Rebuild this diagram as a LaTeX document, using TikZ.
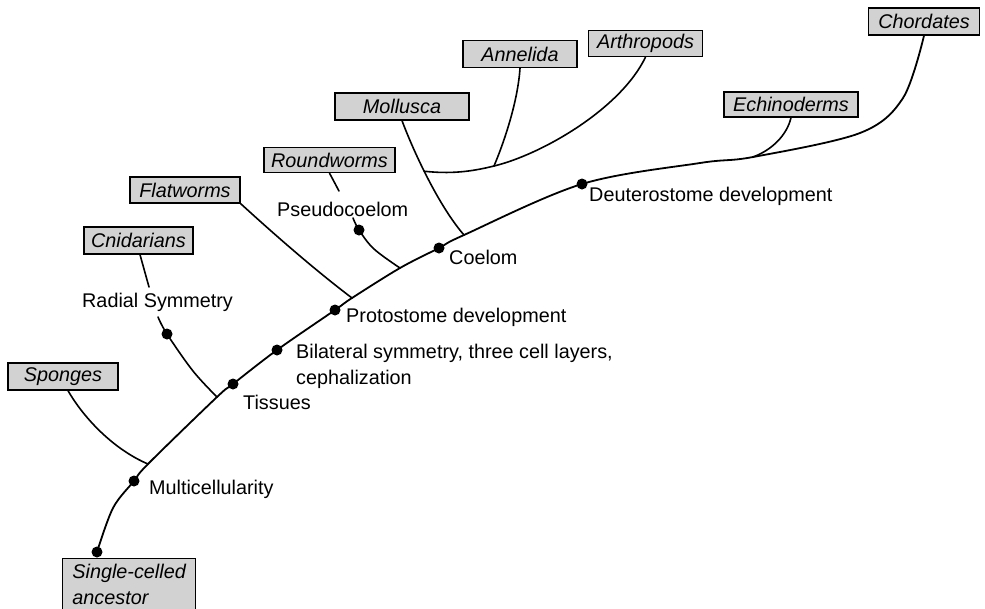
\documentclass[tikz,border=0pt]{standalone}
\usepackage{fontspec}
\setmainfont{Liberation Sans}
\begin{document}
\begin{tikzpicture}[x=1pt,y=-1pt,
  lbl/.style={font=\fontsize{19.8}{26}\selectfont, inner sep=0pt, anchor=west, align=left},
  taxon/.style={draw, line width=1.3pt, fill=gray!35, font=\fontsize{19.8}{26}\selectfont\itshape,
    inner sep=0pt, minimum height=27pt},
  trunk/.style={line width=1.8pt, line cap=round, line join=round},
  branch/.style={line width=1.6pt, line cap=round},
  dot/.style={fill=black, circle, inner sep=0pt, minimum size=11pt}]
\useasboundingbox (0,0) rectangle (985,608);

% taxon boxes
\node[taxon, minimum width=110pt] (spo) at (63,376.5) {Sponges};
\node[taxon, minimum width=109pt] (cni) at (138.5,240.5) {Cnidarians};
\node[taxon, minimum width=110pt, minimum height=26pt] (fla) at (185,190) {Flatworms};
\node[taxon, minimum width=131pt, minimum height=25pt] (rou) at (329.5,160) {Roundworms};
\node[taxon, minimum width=134pt] (mol) at (402,106.5) {Mollusca};
\node[taxon, minimum width=114pt] (ann) at (520,54) {Annelida};
\node[taxon, minimum width=114pt, minimum height=26pt] (art) at (645.5,43.5) {Arthropods};
\node[taxon, minimum width=134pt, minimum height=25pt] (ech) at (791,104.5) {Echinoderms};
\node[taxon, minimum width=111pt] (cho) at (924,21.5) {Chordates};
\node[taxon, minimum width=133pt, minimum height=52pt, anchor=north west, align=left] (anc) at (62,558) {Single-celled\\ancestor};

% trunk coordinates
\coordinate (t0) at (97,552);
\coordinate (t1) at (113,508);
\coordinate (dMult) at (134,481);
\coordinate (jSpo) at (148,464);
\coordinate (jCni) at (217,397);
\coordinate (dTis) at (233,384);
\coordinate (dBil) at (277,350);
\coordinate (dPro) at (335,310);
\coordinate (jFla) at (352,298);
\coordinate (jRou) at (400,268);
\coordinate (dCoe) at (439,248);
\coordinate (jMol) at (464,235);
\coordinate (dDeu) at (582,184);
\coordinate (t2) at (700,163);
\coordinate (jEch) at (753,157);
\coordinate (t3) at (860,133);
\coordinate (t4) at (903,98);

\draw[trunk] plot[smooth, tension=0.55] coordinates {(t0) (t1) (dMult) (jSpo) (jCni) (dTis) (dBil) (dPro) (jFla) (jRou) (dCoe) (jMol) (dDeu) (t2) (jEch) (t3) (t4) (cho.south)};

% labels
\node[lbl] (mult) at (149,489) {Multicellularity};
\node[lbl] (tis) at (243,402) {Tissues};
\node[lbl] (bil) at (296,366) {Bilateral symmetry, three cell layers,\\cephalization};
\node[lbl] (pro) at (346,317) {Protostome development};
\node[lbl] (coe) at (449,257) {Coelom};
\node[lbl] (pse) at (277,209) {Pseudocoelom};
\node[lbl] (rad) at (82,302) {Radial Symmetry};
\node[lbl] (deu) at (589,196) {Deuterostome development};

% Sponges
\draw[branch] (spo.south) ++(5,0) .. controls (85,420) and (115,450) .. (jSpo);
% Cnidarians
\coordinate (cA) at (149,287);
\coordinate (cB) at (158,317);
\coordinate (dRad) at (167,334);
\coordinate (c2) at (193,371);
\draw[branch] (cni.south) ++(1.5,0) -- (cA);
\draw[branch] plot[smooth, tension=0.6] coordinates {(cB) (dRad) (c2) (jCni)};
% Flatworms
\draw[branch] (fla.south east) .. controls (275,235) and (315,270) .. (jFla);
% Roundworms
\coordinate (rA) at (339,191);
\coordinate (rB) at (353,218);
\coordinate (dPse) at (359,230);
\coordinate (r2) at (374,249);
\draw[branch] (rou.south) -- (rA);
\draw[branch] plot[smooth, tension=0.6] coordinates {(rB) (dPse) (r2) (jRou)};
% Mollusca, Annelida, Arthropods
\draw[branch] (mol.south) .. controls (413,150) and (438,205) .. coordinate[pos=0.45] (mbr) (jMol);
\coordinate (jAnn) at (494,166);
\draw[branch] (mbr) .. controls (450,174) and (470,172) .. (jAnn);
\draw[branch] (jAnn) .. controls (540,155) and (620,110) .. (art.south);
\draw[branch] (ann.south) .. controls (518,100) and (505,140) .. (jAnn);
% Echinoderms
\draw[branch] (ech.south) .. controls (787,135) and (772,150) .. (jEch);

% dots
\foreach \p in {t0,dMult,dTis,dBil,dPro,dCoe,dDeu,dRad,dPse}
  \node[dot] at (\p) {};
\end{tikzpicture}
\end{document}
